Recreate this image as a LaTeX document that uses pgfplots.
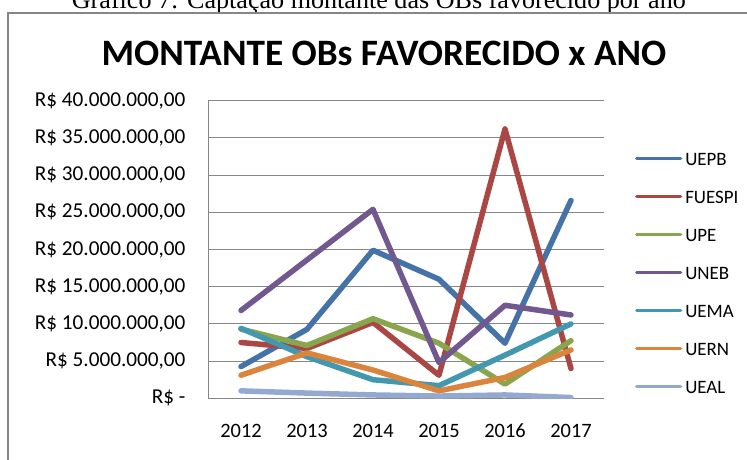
\documentclass[border=0pt]{standalone}
\usepackage{pgfplots}
\pgfplotsset{compat=1.18}
\usepackage{fontspec}
\setmainfont{Carlito}
\newfontfamily\capfont{Liberation Serif}

\definecolor{cUEPB}{HTML}{4572A7}
\definecolor{cFUESPI}{HTML}{AA4643}
\definecolor{cUPE}{HTML}{89A54E}
\definecolor{cUNEB}{HTML}{71588F}
\definecolor{cUEMA}{HTML}{4198AF}
\definecolor{cUERN}{HTML}{DB843D}
\definecolor{cUEAL}{HTML}{93A9CF}
\definecolor{axgray}{HTML}{868686}

\begin{document}
\begin{tikzpicture}
\path[use as bounding box] (0,0) rectangle (747bp,460bp);
\clip (0,0) rectangle (747bp,460bp);

% caption of the document, cut at the top
\node[anchor=base west, inner sep=0pt] at (71.7bp,451.3bp)
  {\capfont\fontsize{26.2}{27}\selectfont Gráfico 7: Captação montante das OBs favorecido por ano};
% chart frame
\draw[axgray, line width=1.8bp] (7.7bp,-10bp) -- (7.7bp,447.3bp) -- (760bp,447.3bp);
% chart title
\node[anchor=base, inner sep=0pt] at (384bp,394bp)
  {\fontsize{37.4}{38}\selectfont\bfseries MONTANTE OBs FAVORECIDO x ANO};

\begin{axis}[
    at={(208bp,61.7bp)}, anchor=south west,
    width=396bp, height=297.6bp, scale only axis,
    xmin=2011.5, xmax=2017.5,
    ymin=0, ymax=40000000,
    axis x line*=bottom, axis y line*=left,
    axis line style={axgray, line width=1bp, -},
    xtick={2012,2013,2014,2015,2016,2017},
    xticklabels={2012,2013,2014,2015,2016,2017},
    ytick={0,5000000,10000000,15000000,20000000,25000000,30000000,35000000,40000000},
    yticklabels={{R\$ -\hspace{14bp}},{R\$ 5.000.000,00},{R\$ 10.000.000,00},{R\$ 15.000.000,00},
      {R\$ 20.000.000,00},{R\$ 25.000.000,00},{R\$ 30.000.000,00},{R\$ 35.000.000,00},{R\$ 40.000.000,00}},
    scaled y ticks=false,
    major tick length=0pt,
    ymajorgrids,
    grid style={axgray, line width=1bp},
    yticklabel style={font=\fontsize{21.3}{21}\selectfont, anchor=east, xshift=-19bp},
    xticklabel style={font=\fontsize{20.5}{21}\selectfont, anchor=north, yshift=-22bp},
    every axis plot/.append style={line width=5.5bp, line join=round, line cap=round, no markers},
    legend image code/.code={\draw[line width=3.2bp, line cap=round] (0bp,0bp) -- (44bp,0bp);},
    legend cell align=left,
    legend style={at={(1.078,0.828)}, anchor=north west, draw=none, fill=none,
      inner sep=0pt, row sep=25bp, column sep=3bp,
      font=\fontsize{19}{19}\selectfont,
      nodes={inner sep=0pt, text height=13bp, text depth=0pt}},
]
\addplot[cUEPB] coordinates {(2012,4260000) (2013,9270000) (2014,19900000) (2015,16000000) (2016,7400000) (2017,26600000)};
\addplot[cFUESPI] coordinates {(2012,7500000) (2013,6700000) (2014,10200000) (2015,3100000) (2016,36200000) (2017,4000000)};
\addplot[cUPE] coordinates {(2012,9300000) (2013,7100000) (2014,10700000) (2015,7400000) (2016,1900000) (2017,7750000)};
\addplot[cUNEB] coordinates {(2012,11800000) (2013,18600000) (2014,25400000) (2015,4800000) (2016,12500000) (2017,11200000)};
\addplot[cUEMA] coordinates {(2012,9400000) (2013,5600000) (2014,2500000) (2015,1700000) (2016,5800000) (2017,10000000)};
\addplot[cUERN] coordinates {(2012,3100000) (2013,6100000) (2014,3800000) (2015,1000000) (2016,2800000) (2017,6500000)};
\addplot[cUEAL] coordinates {(2012,1000000) (2013,700000) (2014,450000) (2015,300000) (2016,450000) (2017,100000)};
\legend{UEPB,FUESPI,UPE,UNEB,UEMA,UERN,UEAL}
\end{axis}
\end{tikzpicture}
\end{document}
